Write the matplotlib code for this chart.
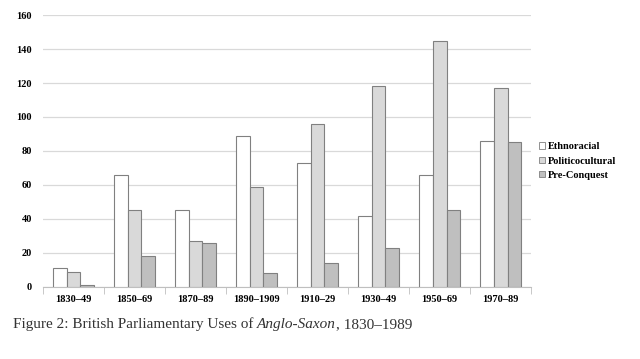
import numpy as np
import matplotlib
matplotlib.use('Agg')
import matplotlib.pyplot as plt
from matplotlib.patches import Patch

# Periods on the x axis
periods = ['1830–49', '1850–69', '1870–89', '1890–1909',
           '1910–29', '1930–49', '1950–69', '1970–89']
# Uses per period, by sense
ethnoracial = [11, 66, 45, 89, 73, 42, 66, 86]
politicocultural = [9, 45, 27, 59, 96, 118, 145, 117]
pre_conquest = [1, 18, 26, 8, 14, 23, 45, 85]

series_names = ['Ethnoracial', 'Politicocultural', 'Pre-Conquest']
series_colors = ['#ffffff', '#d9d9d9', '#bfbfbf']

plt.rcParams['font.family'] = ['Liberation Serif', 'DejaVu Serif']

fig = plt.figure(figsize=(6.4, 3.59), dpi=100)
ax = fig.add_axes([0.067, 0.2006, 0.763, 0.7576])

x = np.arange(len(periods))
width = 0.225
for i, (vals, col) in enumerate(zip([ethnoracial, politicocultural, pre_conquest],
                                    series_colors)):
    ax.bar(x + (i - 1) * width, vals, width, color=col,
           edgecolor='#808080', linewidth=0.8, zorder=3)

ax.set_xlim(-0.5, len(periods) - 0.5)
ax.set_ylim(0, 160)
ax.set_yticks(range(0, 161, 20))
ax.yaxis.grid(True, color='#d9d9d9', linewidth=0.9, zorder=0)

# category labels centred, tick marks between groups
ax.set_xticks(x)
ax.set_xticklabels(periods, fontsize=7.5, fontweight='bold')
ax.tick_params(axis='x', length=0, pad=6)
ax.set_xticks(np.arange(-0.5, len(periods)), minor=True)
ax.tick_params(axis='x', which='minor', length=5, color='#bfbfbf')
ax.tick_params(axis='y', length=0, labelsize=7.5, pad=8)
for lab in ax.get_yticklabels():
    lab.set_fontweight('bold')

for side in ['top', 'right', 'left']:
    ax.spines[side].set_visible(False)
ax.spines['bottom'].set_color('#bfbfbf')

handles = [Patch(facecolor=c, edgecolor='#808080', linewidth=0.6)
           for c in series_colors]
leg = fig.legend(handles, series_names, loc='upper left',
                 bbox_to_anchor=(0.835, 0.615), frameon=False,
                 prop={'size': 7.5, 'weight': 'bold'},
                 handlelength=0.6, handleheight=0.6, handletextpad=0.3,
                 labelspacing=0.5, borderaxespad=0)

# caption, with the italic term in the middle
cap_y = 0.085
t1 = fig.text(0.02, cap_y, 'Figure 2: British Parliamentary Uses of ',
              fontsize=11, color='#333333', va='baseline')
fig.canvas.draw()
r = t1.get_window_extent()
t2 = fig.text(r.x1 / fig.bbox.width, cap_y, 'Anglo-Saxon', fontsize=11,
              style='italic', color='#333333', va='baseline')
r2 = t2.get_window_extent()
fig.text(r2.x1 / fig.bbox.width, cap_y, ', 1830–1989', fontsize=11,
         color='#333333', va='baseline')

fig.savefig('out.png', dpi=100)
